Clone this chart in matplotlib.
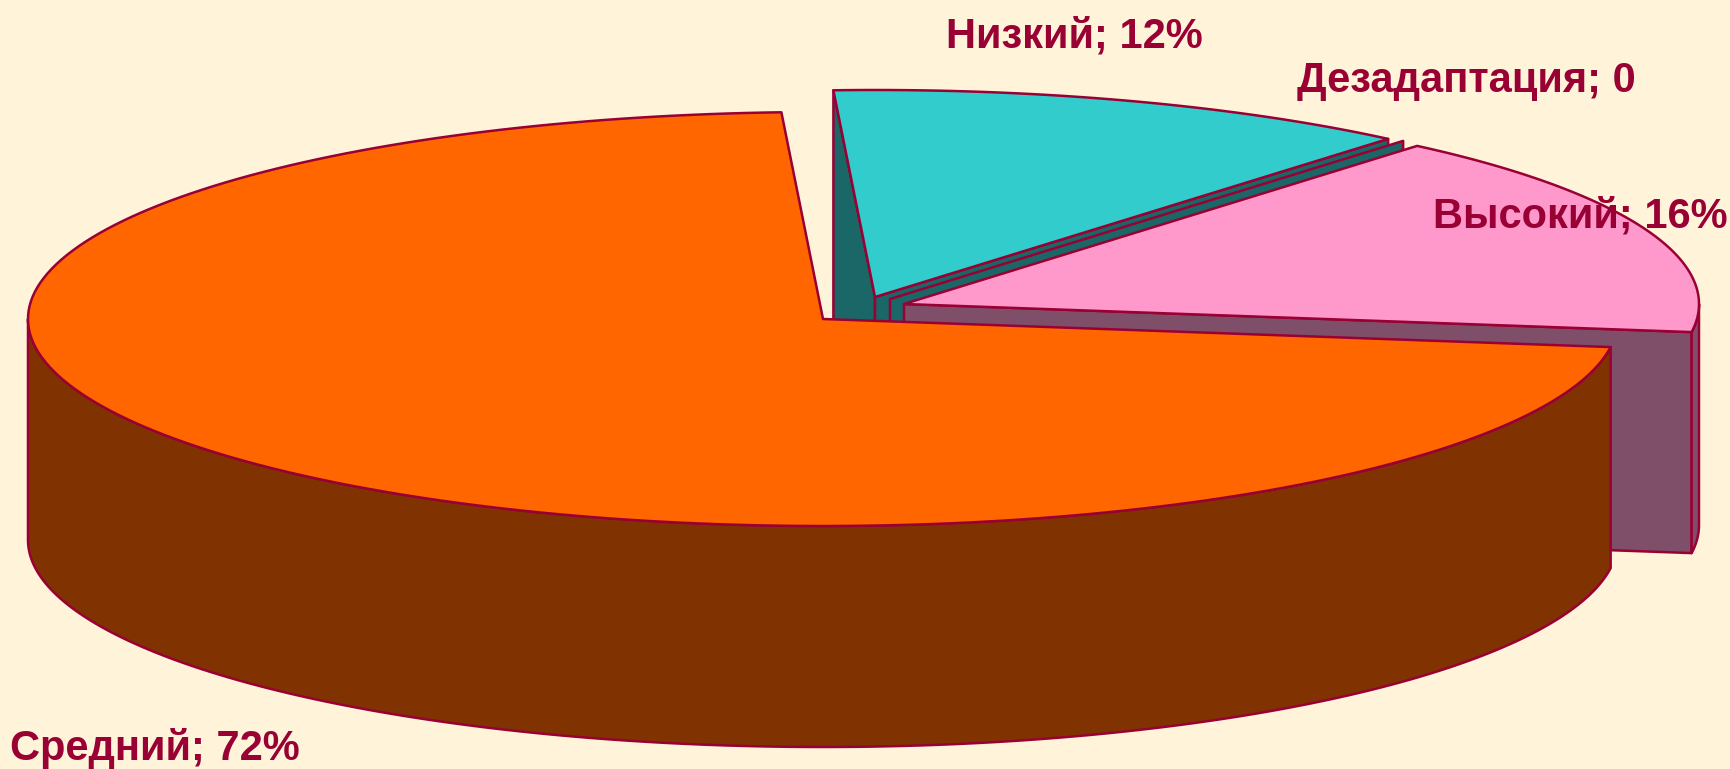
import numpy as np
import matplotlib
matplotlib.use('Agg')
import matplotlib.pyplot as plt

# Data
categories = ['Низкий', 'Дезадаптация', 'Высокий', 'Средний']
shares = [12, 0, 16, 72]
label_texts = ['Низкий; 12%', 'Дезадаптация; 0', 'Высокий; 16%', 'Средний; 72%']

# Styles and layout (pixels of the 1730x769 picture)
top_colors = ['#33CCCC', '#33CCCC', '#FF99CC', '#FF6600']
side_colors = ['#1B6666', '#1B6666', '#7F4F69', '#803300']
apexes = [(875, 297), (890, 299), (904, 304), (823, 319)]
label_pos = [(946, 47), (1297, 92), (1433, 227), (10, 760)]
edge = '#990033'
bg = '#FFF3DA'
rx, ry = 795, 207
depth = 221
start_angle = 93.0
lw = 1.8

plt.rcParams['font.family'] = ['Liberation Sans', 'DejaVu Sans']

fig = plt.figure(figsize=(17.30, 7.69), dpi=100, facecolor=bg)
ax = fig.add_axes([0, 0, 1, 1])
ax.set_xlim(0, 1730)
ax.set_ylim(769, 0)
ax.axis('off')


def arc(apex, a1, a2, dy=0):
    t = np.radians(np.linspace(a1, a2, 200))
    return apex[0] + rx * np.cos(t), apex[1] + dy - ry * np.sin(t)


def draw_poly(x, y, color, z):
    ax.fill(x, y, facecolor=color, edgecolor=edge, linewidth=lw, joinstyle='round', zorder=z)


# Slices go clockwise from the start angle, back ones first
a = start_angle
for i, share in enumerate(shares):
    a1 = a
    a2 = a - share / 100 * 360
    a = a2
    cx, cy = apexes[i]
    z = i * 10

    # cut face at the start of the slice (only seen on the first one)
    if i == 0:
        ex, ey = arc(apexes[i], a1, a1)
        # runs down behind the orange slice
        draw_poly([ex[0], cx, cx, ex[0]], [ey[0], cy, cy + depth, ey[0] + depth + 12], side_colors[i], z)

    # cut face at the end of the slice, faces the viewer
    if i < 3:
        ex, ey = arc(apexes[i], a2, a2)
        draw_poly([cx, ex[0], ex[0], cx], [cy, ey[0], ey[0] + depth, cy + depth], side_colors[i], z + 1)

    # outer wall, only the part that faces the viewer
    w1 = min(a1, 0)
    w2 = max(a2, -180)
    if w1 > w2:
        x1, y1 = arc(apexes[i], w1, w2)
        x2, y2 = arc(apexes[i], w2, w1, depth)
        draw_poly(np.r_[x1, x2], np.r_[y1, y2], side_colors[i], z + 2)

    # top face
    if share > 0:
        x1, y1 = arc(apexes[i], a1, a2)
        draw_poly(np.r_[cx, x1], np.r_[cy, y1], top_colors[i], z + 3)

for text, (lx, ly) in zip(label_texts, label_pos):
    ax.text(lx, ly, text, color=edge, fontsize=30, fontweight='bold',
            ha='left', va='baseline', zorder=100)

fig.savefig('out.png', dpi=100, facecolor=bg)
